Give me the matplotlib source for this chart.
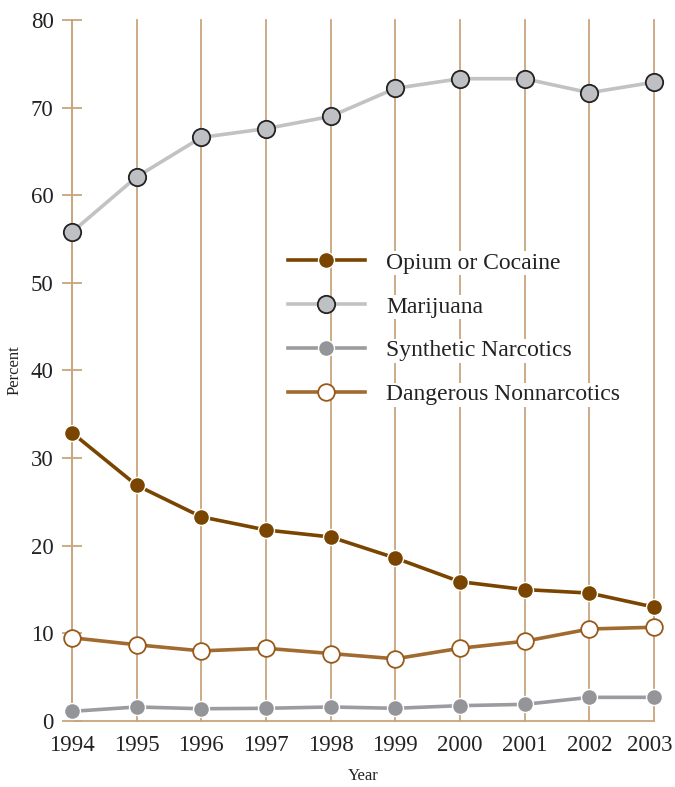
import matplotlib
matplotlib.use("Agg")
import matplotlib.pyplot as plt
import matplotlib.transforms as mtransforms

years = [1994, 1995, 1996, 1997, 1998, 1999, 2000, 2001, 2002, 2003]
opium = [32.9, 26.9, 23.3, 21.8, 21.0, 18.6, 15.9, 15.0, 14.6, 13.0]
marijuana = [55.8, 62.1, 66.6, 67.6, 69.0, 72.2, 73.3, 73.3, 71.7, 72.9]
synthetic = [1.1, 1.6, 1.4, 1.45, 1.6, 1.45, 1.75, 1.9, 2.7, 2.7]
dangerous = [9.5, 8.7, 8.0, 8.3, 7.7, 7.1, 8.3, 9.1, 10.5, 10.7]
yticks = [0, 10, 20, 30, 40, 50, 60, 70, 80]

TAN = '#C9A57F'
plt.rcParams['font.family'] = ['Liberation Serif', 'DejaVu Serif']

fig = plt.figure(figsize=(6.75, 7.87), dpi=100)
ax = fig.add_axes([72/675, 1-721/787, 582/675, 701/787])

ax.set_xlim(1994, 2003)
ax.set_ylim(0, 80)

for y in years:
    ax.axvline(y, color=TAN, lw=1.3, zorder=1, clip_on=False)

ax.plot(years, marijuana, color='#C2C2C4', lw=2.6, marker='o', ms=12.5,
        mfc='#BFC0C3', mec='#222222', mew=1.3, label='Marijuana', zorder=3, clip_on=False)
ax.plot(years, synthetic, color='#9C9CA0', lw=2.6, marker='o', ms=11.5,
        mfc='#949599', mec='white', mew=1.0, label='Synthetic Narcotics', zorder=3, clip_on=False)
ax.plot(years, dangerous, color='#A06A30', lw=2.6, marker='o', ms=12,
        mfc='white', mec='#98591A', mew=1.3, label='Dangerous Nonnarcotics', zorder=4, clip_on=False)
ax.plot(years, opium, color='#7A4500', lw=2.6, marker='o', ms=11.5,
        mfc='#7A4500', mec='white', mew=1.0, label='Opium or Cocaine', zorder=5, clip_on=False)

for s in ['top', 'right']:
    ax.spines[s].set_visible(False)
ax.spines['left'].set_color(TAN)
ax.spines['bottom'].set_color(TAN)
ax.spines['left'].set_linewidth(1.3)
ax.spines['bottom'].set_linewidth(1.3)

ax.set_yticks(yticks)
ax.set_xticks(years)
ax.tick_params(axis='y', direction='inout', length=14.5, width=1.3, color=TAN,
               labelsize=16.5, pad=6, labelcolor='#222222')
ax.tick_params(axis='x', length=0, labelsize=16.5, pad=10, labelcolor='#222222')

# nudge the last x tick label slightly left so it stays inside the figure
last = ax.get_xticklabels()[-1]
last.set_transform(last.get_transform() +
                   mtransforms.ScaledTranslation(-4/100, 0, fig.dpi_scale_trans))

ax.set_xlabel('Year', fontsize=12, labelpad=9, color='#222222')
ax.set_ylabel('Percent', fontsize=12, labelpad=6, color='#222222')

handles, labels = ax.get_legend_handles_labels()
order = [3, 0, 1, 2]
leg = ax.legend([handles[i] for i in order], [labels[i] for i in order],
                loc='upper left', bbox_to_anchor=(0.371, 0.669), frameon=False,
                fontsize=17, handlelength=3.26, handletextpad=0.9, labelspacing=0.95,
                borderpad=0, borderaxespad=0)
for t in leg.get_texts():
    t.set_color('#222222')
    t.set_bbox(dict(facecolor='white', edgecolor='none', pad=1))

fig.savefig('out.png', dpi=100)
